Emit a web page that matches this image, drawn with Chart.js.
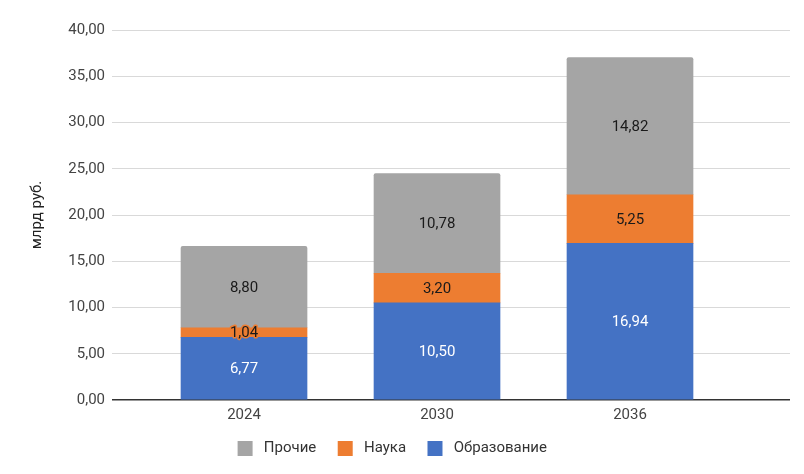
<!DOCTYPE html>
<html>
<head>
<meta charset="utf-8">
<script src="https://cdn.jsdelivr.net/npm/chart.js@4"></script>
<style>
  html, body { margin: 0; padding: 0; background: #fff; }
  #wrap { width: 804px; height: 474px; }
</style>
</head>
<body>
<div id="wrap"><canvas id="chart" width="804" height="474"></canvas></div>
<script>
// Chart data
const years = ['2024', '2030', '2036'];
const education = [6.77, 10.50, 16.94];
const science = [1.04, 3.20, 5.25];
const other = [8.80, 10.78, 14.82];
const yTicks = [0, 5, 10, 15, 20, 25, 30, 35, 40];

const fmt = v => v.toFixed(2).replace('.', ',');
const toPoints = arr => arr.map((v, i) => ({ x: i, y: v }));

// draw values inside each bar segment
const barLabels = {
    id: 'barLabels',
    afterDatasetsDraw(chart) {
        const ctx = chart.ctx;
        ctx.save();
        ctx.font = '15px Roboto';
        ctx.textAlign = 'center';
        ctx.textBaseline = 'middle';
        ctx.lineJoin = 'round';
        chart.data.datasets.forEach((ds, di) => {
            const meta = chart.getDatasetMeta(di);
            meta.data.forEach((bar, i) => {
                const y = (bar.y + bar.base) / 2 + 1;
                ctx.strokeStyle = ds.backgroundColor;
                ctx.lineWidth = 3;
                ctx.strokeText(fmt(ds.data[i].y), bar.x, y);
                ctx.fillStyle = ds.labelColor;
                ctx.fillText(fmt(ds.data[i].y), bar.x, y);
            });
        });
        ctx.restore();
    }
};

// fixed legend height so the plot keeps its size
const legendFit = {
    id: 'legendFit',
    beforeInit(chart) {
        const orig = chart.legend.fit;
        chart.legend.fit = function () {
            orig.call(this);
            this.height = 47;
        };
    }
};

const chart = new Chart(document.getElementById('chart'), {
    type: 'bar',
    data: {
        datasets: [
            { label: 'Образование', data: toPoints(education), backgroundColor: '#4472c4', labelColor: '#ffffff' },
            { label: 'Наука', data: toPoints(science), backgroundColor: '#ed7d31', labelColor: '#1a1a1a' },
            { label: 'Прочие', data: toPoints(other), backgroundColor: '#a5a5a5', labelColor: '#1a1a1a',
              borderRadius: { topLeft: 2, topRight: 2 }, borderSkipped: false }
        ]
    },
    options: {
        responsive: false,
        animation: false,
        layout: { padding: { top: 30, right: 14, left: 2, bottom: 0 } },
        datasets: { bar: { barThickness: 126 } },
        scales: {
            x: {
                type: 'linear',
                stacked: true,
                offset: false,
                min: -0.684,
                max: 2.829,
                afterBuildTicks: s => { s.ticks = years.map((y, i) => ({ value: i })); },
                afterFit: s => { s.height = 27; },
                grid: { display: false, drawTicks: false },
                border: { display: false },
                ticks: {
                    padding: 6,
                    color: '#444',
                    font: { family: 'Roboto', size: 15 },
                    callback: v => years[v]
                }
            },
            y: {
                stacked: true,
                min: 0,
                max: 40,
                afterBuildTicks: s => { s.ticks = yTicks.map(v => ({ value: v })); },
                afterFit: s => { s.width = 110; },
                border: { display: false },
                grid: {
                    drawTicks: false,
                    color: c => c.tick.value === 0 ? '#333333' : '#d9d9d9',
                    lineWidth: c => c.tick.value === 0 ? 1.5 : 1
                },
                ticks: {
                    padding: 7,
                    color: '#444',
                    font: { family: 'Roboto', size: 15 },
                    callback: v => fmt(v)
                },
                title: {
                    display: true,
                    text: 'млрд руб.',
                    color: '#222',
                    font: { family: 'Roboto', size: 15 },
                    padding: { top: 26, bottom: 0 }
                }
            }
        },
        plugins: {
            legend: {
                position: 'bottom',
                reverse: true,
                labels: {
                    boxWidth: 15,
                    boxHeight: 15,
                    padding: 14,
                    color: '#333',
                    font: { family: 'Roboto', size: 15 },
                    generateLabels(chart) {
                        const items = Chart.defaults.plugins.legend.labels.generateLabels(chart);
                        items.forEach(it => { it.text = ' ' + it.text + '  '; it.lineWidth = 0; });
                        return items;
                    }
                }
            },
            tooltip: { enabled: false }
        }
    },
    plugins: [barLabels, legendFit]
});
</script>
</body>
</html>
